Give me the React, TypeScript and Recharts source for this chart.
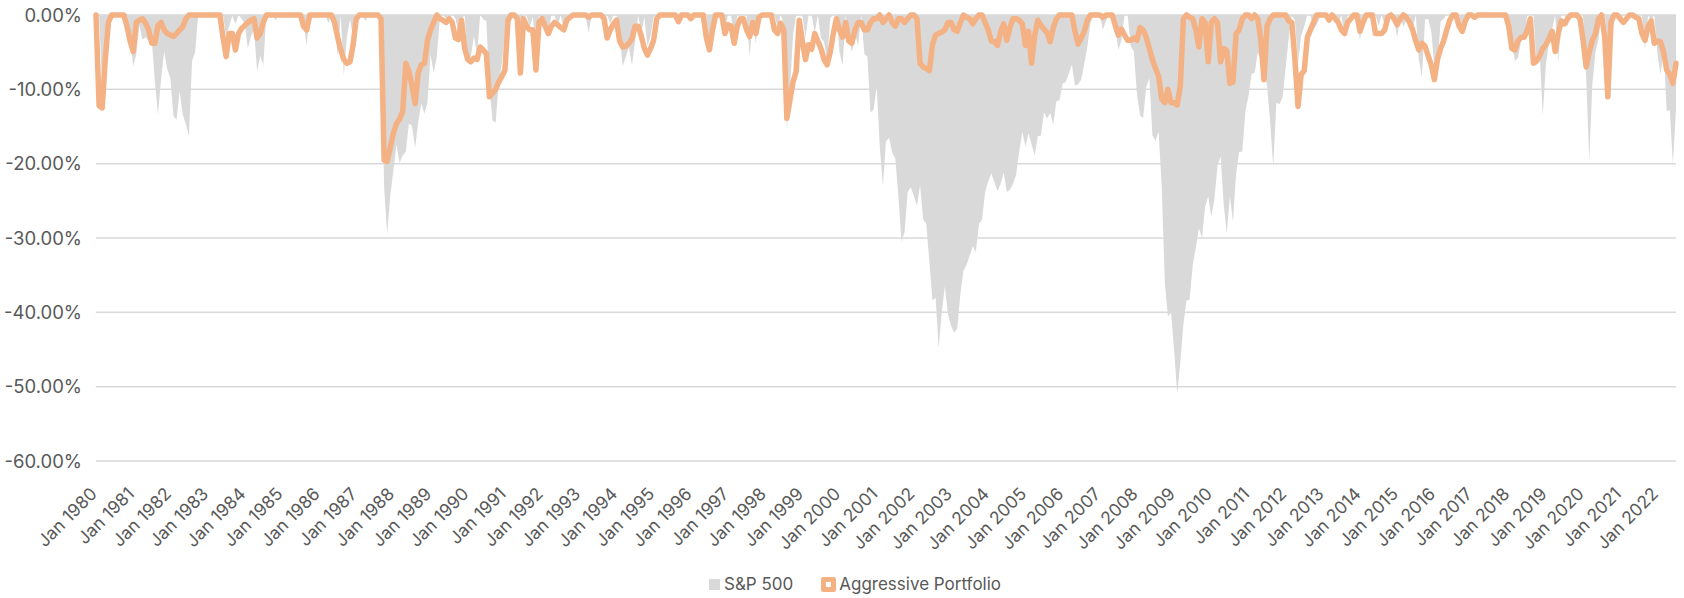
import { ComposedChart, Area, Line, XAxis, YAxis, CartesianGrid, Legend } from 'recharts';

const months = ['Jan', 'Feb', 'Mar', 'Apr', 'May', 'Jun', 'Jul', 'Aug', 'Sep', 'Oct', 'Nov', 'Dec'];
const startYear = 1980;

// S&P 500 drawdown from prior peak (%), monthly, one row per year
const sp1980s = [
  0, 0, -10.2, -6.3, -1.6, 0, 0, 0, 0, 0, 0, -2.9,
  -6.9, -5.3, -1.4, -3.3, -3.0, -3.5, -3.3, -8.9, -13.4, -8.7, -4.9, -7.3,
  -8.5, -13.6, -14.1, -10.3, -13.4, -14.7, -16.3, -6.2, -5.0, 0, 0, 0,
  0, 0, 0, 0, -0.8, 0, -2.9, -1.5, -0.1, -1.2, 0, -0.5,
  -1.1, -4.5, -2.9, -2.0, -7.5, -5.5, -6.7, 0, 0, 0, -0.7, 0,
  0, 0, 0, -0.3, 0, 0, -0.1, -1.0, -4.1, 0, 0, 0,
  0, 0, 0, -1.1, 0, 0, -5.6, 0, -8.2, -2.9, -0.6, -3.1,
  0, 0, 0, -0.8, 0, 0, 0, 0, -2.2, -23.2, -29.5, -24.2,
  -20.9, -17.4, -19.9, -18.9, -18.4, -14.6, -14.9, -17.9, -14.4, -11.9, -13.3, -11.8,
  -5.3, -7.8, -5.6, -0.5, 0, -0.5, 0, 0, -0.4, -2.5, -0.6, 0,
];
const sp1990s = [
  -6.6, -5.5, -2.9, -5.3, 0, -0.6, -0.8, -9.8, -14.2, -14.5, -9.1, -6.5,
  -2.4, 0, 0, 0, 0, -4.5, 0, 0, -1.6, -0.2, -4.4, 0,
  -1.7, -0.5, -2.5, 0, 0, -1.5, 0, -2.2, -1.1, -0.7, 0, 0,
  0, 0, 0, -2.4, 0, 0, -0.3, 0, -0.8, 0, -1.1, 0,
  0, -2.7, -6.9, -5.7, -4.3, -6.8, -3.6, 0, -2.5, -0.3, -4.2, -2.8,
  -0.3, 0, 0, 0, 0, 0, 0, 0, 0, -0.4, 0, 0,
  0, 0, 0, 0, 0, 0, -4.4, -2.4, 0, 0, 0, -2.0,
  0, 0, -4.1, 0, 0, 0, 0, -5.6, -0.5, -3.8, 0, 0,
  0, 0, 0, 0, -1.7, 0, -1.1, -15.4, -10.0, -2.7, 0, 0,
  0, -3.1, 0, 0, -2.4, 0, -3.1, -3.6, -6.3, -0.4, 0, 0,
];
const sp2000s = [
  -5.0, -6.8, 0, -3.0, -5.0, -2.6, -4.1, 0, -5.2, -5.6, -13.1, -12.7,
  -9.6, -17.8, -23.0, -17.0, -16.5, -18.5, -19.3, -24.4, -30.5, -29.2, -23.8, -23.2,
  -24.3, -25.7, -22.9, -27.5, -28.1, -33.2, -38.4, -38.0, -44.8, -40.0, -36.5, -40.3,
  -41.8, -42.7, -42.2, -37.6, -34.4, -33.6, -32.4, -31.1, -31.9, -28.1, -27.5, -23.8,
  -22.4, -21.3, -22.5, -23.7, -22.7, -21.2, -23.8, -23.5, -22.7, -21.5, -18.4, -15.7,
  -17.7, -15.9, -17.4, -18.9, -16.3, -16.2, -13.1, -13.9, -13.2, -14.7, -11.6, -11.5,
  -9.2, -9.0, -7.9, -6.7, -9.5, -9.3, -8.7, -6.6, -4.2, -1.1, 0, 0,
  0, -2.0, -0.8, 0, 0, -1.7, -4.7, -3.4, 0, 0, -4.2, -4.9,
  -10.6, -13.5, -13.9, -9.7, -8.5, -16.2, -16.9, -15.7, -23.1, -36.0, -40.6, -40.0,
  -45.1, -51.0, -46.7, -41.6, -38.4, -38.3, -33.7, -31.3, -28.7, -30.0, -25.8, -24.4,
];
const sp2010s = [
  -27.1, -24.8, -20.3, -19.0, -25.5, -29.4, -24.4, -27.8, -21.4, -18.4, -18.4, -13.0,
  -10.9, -7.9, -7.8, -5.0, -6.1, -7.6, -9.5, -14.4, -20.4, -11.8, -12.0, -11.1,
  -7.1, -3.1, -0.1, -0.7, -6.6, -2.8, -1.5, 0, 0, -1.9, -1.3, -0.4,
  0, 0, 0, 0, 0, -1.3, 0, -2.9, 0, 0, 0, 0,
  -3.5, 0, 0, 0, 0, 0, -1.4, 0, -1.4, -0.3, 0, -0.3,
  -3.0, 0, -1.6, -0.6, 0, -1.9, 0, -6.0, -8.4, -0.6, -0.5, -2.2,
  -7.0, -7.1, -0.9, -0.5, 0, 0, 0, 0, -0.1, -1.9, 0, 0,
  0, 0, 0, 0, 0, 0, 0, 0, 0, 0, 0, 0,
  0, -3.7, -6.2, -5.8, -3.5, -2.9, 0, 0, 0, -6.8, -5.0, -13.5,
  -6.7, -3.8, -2.0, 0, -6.4, 0, 0, -1.6, 0, 0, 0, 0,
];
const sp2020s = [
  0, -8.3, -19.6, -9.3, -5.0, -3.2, 0, 0, -3.8, -6.4, 0, 0,
  -1.0, 0, 0, 0, 0, 0, 0, 0, -4.7, 0, -0.7, 0,
  -5.2, -8.0, -4.6, -12.9, -12.8, -20.0, -12.7,
];

// Aggressive Portfolio drawdown from prior peak (%), monthly, one row per year
const ap1980s = [
  0, -12.2, -12.5, -6, -1, 0, 0, 0, 0, 0, -1.5, -3.5,
  -4.9, -1, -0.7, -0.5, -1.1, -2, -3.8, -3.8, -1.4, -1, -2, -2.5,
  -2.7, -2.9, -2.5, -2, -1.6, -0.5, 0, 0, 0, 0, 0, 0,
  0, 0, 0, 0, 0, -3, -5.6, -2.5, -2.5, -4.7, -2.5, -1.8,
  -1.4, -1, -0.7, -0.5, -3.1, -2.5, -1, 0, 0, 0, 0, 0,
  0, 0, 0, 0, 0, 0, 0, -1.5, -2, 0, 0, 0,
  0, 0, 0, 0, 0, -1, -3, -4.7, -6, -6.5, -6.3, -4,
  -0.5, 0, 0, 0, 0, 0, 0, 0, -0.5, -19.5, -19.7, -17.8,
  -15.9, -14.6, -14, -13, -6.5, -7.6, -9.5, -11.9, -7.8, -6.7, -6.5, -3.4,
  -2, -1, 0, -0.5, -0.7, -1, -0.5, -1, -3.1, -3.3, -0.7, -4.5,
];
const ap1990s = [
  -6, -6.3, -5.8, -6, -4.3, -4.7, -5.2, -11, -10.5, -10, -9, -8.3,
  -7.4, -0.7, 0, 0, -0.5, -7.8, -0.5, -1.5, -2, -2, -7.4, -1,
  -0.5, -1.5, -2.5, -1.5, -1, -1.3, -1.7, -2, -0.7, -0.3, 0, 0,
  0, 0, 0, -0.3, 0, 0, 0, 0, -0.5, -3.1, -2, -1.2,
  -0.7, -3.5, -4.3, -4.2, -3.8, -3.2, -1.5, -1.5, -2.8, -4.5, -5.4, -4.5,
  -3.4, -0.5, 0, 0, 0, 0, 0, 0, -0.9, 0, 0, 0,
  -0.5, 0, 0, 0, 0, -3, -4.7, -2, 0, 0, 0, -2.5,
  -1.3, -1.5, -3.8, -1.5, -0.5, -0.5, -2, -2.9, -1, -2.5, -0.3, 0,
  0, 0, 0, -2, -2.5, -1.1, -2, -13.9, -11.4, -9, -7.6, -0.7,
  -3.5, -6, -4, -4.6, -2.5, -3.5, -4.5, -6, -6.7, -5, -2.5, -0.5,
];
const ap2000s = [
  -2, -3, -1, -3.5, -3.8, -2, -1, -1, -2, -2, -1, -0.5,
  -0.5, 0, -1, -0.5, 0, -1, -1.5, -0.5, -0.5, -1, -0.5, 0,
  0, -0.5, -6.5, -7, -7.2, -7.5, -4, -2.7, -2.5, -2.3, -2, -1,
  -1, -2, -2.2, -1, 0, -0.3, -0.5, -1.2, -0.5, 0, 0, -1,
  -2, -3.5, -3.6, -4.1, -2.2, -1.2, -3.4, -1.7, -0.5, -0.5, -0.7, -1.2,
  -4.1, -2.2, -6.5, -2.7, -0.7, -1.4, -1.9, -2.4, -3.6, -1.7, -0.5, 0,
  0, 0, 0, 0, -2.2, -3.9, -3.1, -2.2, -0.7, 0, 0, 0,
  0, -0.3, 0, 0, 0, -1.4, -2.7, -1.9, -2.7, -3.4, -3.4, -3.1,
  -3.4, -1.7, -2, -3, -4.5, -6, -7.2, -8.2, -11.3, -11.8, -10, -11.8,
  -11.8, -12.1, -9.5, -0.5, 0, -0.3, -0.5, -2, -4.3, -0.5, -1, -6.3,
];
const ap2010s = [
  -1, -0.5, -1, -6.3, -4.5, -4.8, -9.2, -9, -2.5, -2, -0.5, 0,
  0, -0.5, 0, -0.5, -3.4, -8.7, -1.5, -0.5, 0, 0, 0, 0,
  0, -0.8, -1, -6, -12.3, -8, -7.5, -3, -2, -1, 0, 0,
  0, 0, -0.7, 0, -0.5, -1, -2, -2.5, -1, -0.5, 0, 0,
  -2.2, -1, 0, 0, 0, -2.5, -2.5, -2.5, -2, -0.3, 0, -0.5,
  -1.3, -0.5, 0, -0.3, -1, -2, -3.5, -4.7, -3.8, -4.2, -5.5, -6.7,
  -8.7, -6, -4.5, -3.5, -2, -0.7, 0, 0, -1.5, -2.2, -0.8, 0,
  0, -0.3, 0, 0, 0, 0, 0, 0, 0, 0, 0, 0,
  -1.5, -4.5, -4.7, -3.5, -3, -3, -2, -0.5, -6.5, -6.2, -5.5, -4.5,
  -4, -3.2, -2.2, -4.9, -2.5, -0.8, -1.2, -0.5, 0, 0, 0, -0.5,
];
const ap2020s = [
  -3.4, -7, -5, -3.4, -2.5, -0.5, 0, -3, -11, -1, 0, 0,
  -0.5, -1, -0.5, 0, 0, -0.3, -0.5, -2.5, -3.4, -1.5, -0.8, -3.8,
  -3.5, -3.6, -5, -7.4, -8, -9.2, -6.5,
];

const spDrawdown = [...sp1980s, ...sp1990s, ...sp2000s, ...sp2010s, ...sp2020s];
const apDrawdown = [...ap1980s, ...ap1990s, ...ap2000s, ...ap2010s, ...ap2020s];

const yTicks = [0, -10, -20, -30, -40, -50, -60];

const data = spDrawdown.map((sp, i) => ({
  label: `${months[i % 12]} ${startYear + Math.floor(i / 12)}`,
  sp,
  ap: apDrawdown[i],
}));

const FONT = "Inter, 'Noto Sans', sans-serif";
const TEXT = '#595959';
const GREY = '#d9d9d9';
const ORANGE = '#f4b183';

function YearTick(props: any) {
  const { x, y, payload } = props;
  const tx = x + 2;
  const ty = y + 26;
  return (
    <text
      x={tx}
      y={ty}
      textAnchor="end"
      transform={`rotate(-45 ${tx} ${ty})`}
      fill={TEXT}
      fontSize={17.5}
      fontFamily={FONT}
    >
      {payload.value}
    </text>
  );
}

function ChartLegend() {
  return (
    <div
      style={{
        display: 'flex',
        justifyContent: 'center',
        alignItems: 'center',
        paddingTop: 16,
        paddingLeft: 34,
        fontFamily: FONT,
        fontSize: 17,
        color: TEXT,
      }}
    >
      <span style={{ width: 11, height: 11, background: GREY, display: 'inline-block', marginRight: 4 }} />
      <span>S&amp;P 500</span>
      <span
        style={{
          width: 15,
          height: 15,
          background: ORANGE,
          borderRadius: 2,
          marginLeft: 28,
          marginRight: 3,
          display: 'inline-flex',
          alignItems: 'center',
          justifyContent: 'center',
        }}
      >
        <span style={{ width: 5, height: 5, background: '#fff', display: 'inline-block' }} />
      </span>
      <span>Aggressive Portfolio</span>
    </div>
  );
}

export default function App() {
  return (
    <div style={{ background: '#fff' }}>
      <style>{`body{margin:0}`}</style>
      <ComposedChart width={1684} height={598} data={data} margin={{ top: 15, right: 8, left: 0, bottom: 0 }}>
        <CartesianGrid vertical={false} stroke={GREY} strokeWidth={1.5} />
        <XAxis
          dataKey="label"
          scale="point"
          interval={11}
          axisLine={false}
          tickLine={false}
          height={97}
          tick={<YearTick />}
        />
        <XAxis
          xAxisId="top"
          dataKey="label"
          orientation="top"
          scale="point"
          interval={11}
          height={0}
          mirror
          tick={false}
          tickSize={6}
          tickLine={{ stroke: GREY, strokeWidth: 1.5 }}
          axisLine={{ stroke: GREY, strokeWidth: 1.5 }}
        />
        <YAxis
          type="number"
          domain={[-60, 0]}
          ticks={yTicks}
          tickFormatter={(v: number) => `${v.toFixed(2)}%`}
          axisLine={false}
          tickLine={false}
          width={96}
          tickMargin={8}
          tick={{ fill: TEXT, fontSize: 18.5, fontFamily: FONT }}
        />
        <Legend verticalAlign="bottom" height={40} content={<ChartLegend />} />
        <Area
          type="linear"
          dataKey="sp"
          name="S&P 500"
          fill={GREY}
          fillOpacity={1}
          stroke="none"
          baseValue={0}
          isAnimationActive={false}
        />
        <Line
          type="linear"
          dataKey="ap"
          name="Aggressive Portfolio"
          stroke={ORANGE}
          strokeWidth={5.5}
          strokeLinejoin="round"
          strokeLinecap="round"
          dot={false}
          activeDot={false}
          isAnimationActive={false}
        />
      </ComposedChart>
    </div>
  );
}
